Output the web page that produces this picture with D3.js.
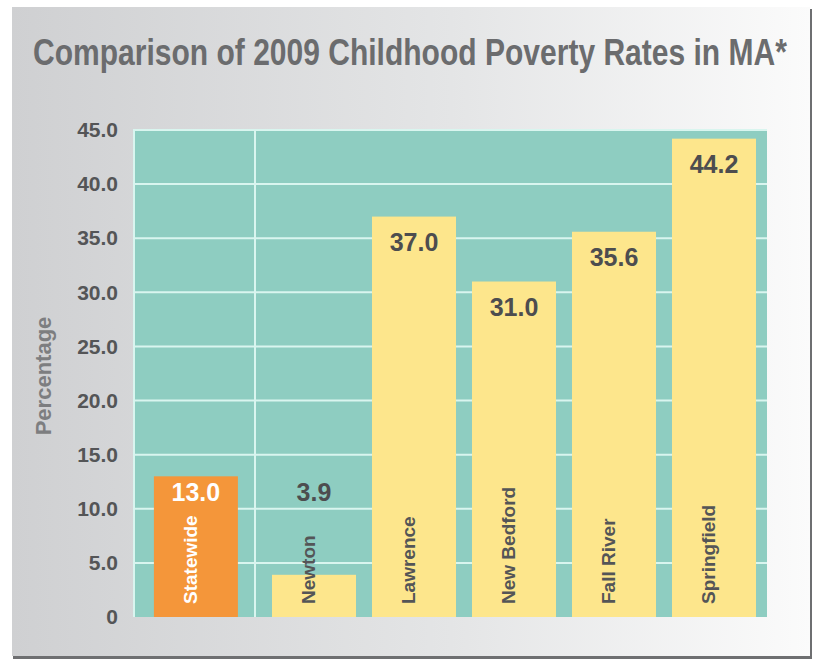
<!DOCTYPE html>
<html>
<head>
<meta charset="utf-8">
<script src="https://cdn.jsdelivr.net/npm/d3@7"></script>
<style>
  html, body { margin: 0; padding: 0; background: #fff; }
  text { font-family: "Liberation Sans", Arial, sans-serif; }
</style>
</head>
<body>
<div id="viz"></div>
<script>
const categories = ["Statewide", "Newton", "Lawrence", "New Bedford", "Fall River", "Springfield"]
const values = [13.0, 3.9, 37.0, 31.0, 35.6, 44.2]
const tickValues = [0, 5, 10, 15, 20, 25, 30, 35, 40, 45]
const tickLabels = ["0", "5.0", "10.0", "15.0", "20.0", "25.0", "30.0", "35.0", "40.0", "45.0"]

const width = 817, height = 659

const colors = {
    plot: "#8ecdc1",
    grid: "#d9f5ef",
    bar: "#fde68c",
    statewide: "#f4963a",
    title: "#6b6c6e",
    tick: "#545557",
    value: "#4d4d4f",
    axisTitle: "#7d7e80"
}

const plot = { left: 133, right: 767, top: 130, bottom: 617, split: 255 }

const svg = d3.select("#viz").append("svg")
    .attr("width", width)
    .attr("height", height)

const defs = svg.append("defs")
const grad = defs.append("linearGradient").attr("id", "bg").attr("x1", "0%").attr("x2", "100%")
grad.append("stop").attr("offset", "0%").attr("stop-color", "#cfd0d2")
grad.append("stop").attr("offset", "55%").attr("stop-color", "#e4e5e6")
grad.append("stop").attr("offset", "100%").attr("stop-color", "#fbfbfb")

// panel with shadow on right and bottom
svg.append("rect").attr("x", 13).attr("y", 9).attr("width", 799).attr("height", 650).attr("fill", "#6e6f71")
svg.append("rect").attr("x", 12).attr("y", 7).attr("width", 798).attr("height", 649).attr("fill", "url(#bg)")

// title is a condensed face in the original, so squeeze it horizontally
const title = svg.append("text")
    .style("font-size", "37px").style("font-weight", "bold")
    .attr("fill", colors.title)
    .text("Comparison of 2009 Childhood Poverty Rates in MA*")
const titleLen = title.node().getComputedTextLength()
title.attr("transform", `translate(33,65) scale(${754 / titleLen},1)`)

const y = d3.scaleLinear().domain([0, 45]).range([plot.bottom, plot.top])

// Statewide sits in its own column, the cities share one band scale
const xState = d3.scaleBand().domain(categories.slice(0, 1))
    .range([plot.left, plot.split]).paddingInner(0.16).paddingOuter(0.19).align(0.55)
const xCity = d3.scaleBand().domain(categories.slice(1))
    .range([264, 764]).paddingInner(0.16).paddingOuter(0.08)
const xPos = c => c === categories[0] ? xState(c) : xCity(c)
const bw = xCity.bandwidth()

svg.append("rect")
    .attr("x", plot.left).attr("y", plot.top)
    .attr("width", plot.right - plot.left).attr("height", plot.bottom - plot.top)
    .attr("fill", colors.plot)

// gridlines
svg.append("g")
    .selectAll("line")
    .data(tickValues.filter(d => d > 0))
    .join("line")
    .attr("x1", plot.left).attr("x2", plot.right)
    .attr("y1", d => y(d)).attr("y2", d => y(d))
    .attr("stroke", colors.grid).attr("stroke-width", 2)

svg.append("line")
    .attr("x1", plot.left + 1).attr("x2", plot.left + 1)
    .attr("y1", plot.top).attr("y2", plot.bottom)
    .attr("stroke", colors.grid).attr("stroke-width", 2)
svg.append("line")
    .attr("x1", plot.split).attr("x2", plot.split)
    .attr("y1", plot.top).attr("y2", plot.bottom)
    .attr("stroke", colors.grid).attr("stroke-width", 2)

// y axis labels
const yAxis = d3.axisLeft(y).tickValues(tickValues)
    .tickFormat((d, i) => tickLabels[i]).tickSize(0).tickPadding(15)
const yg = svg.append("g").attr("transform", `translate(${plot.left},0)`).call(yAxis)
yg.select(".domain").remove()
yg.selectAll("text")
    .attr("fill", colors.tick)
    .style("font-size", "21px").style("font-weight", "bold")
    .style("font-family", "'Liberation Sans', Arial, sans-serif")

svg.append("text")
    .attr("transform", `translate(51,376) rotate(-90)`)
    .attr("text-anchor", "middle")
    .style("font-size", "22px").style("font-weight", "bold")
    .attr("fill", colors.axisTitle)
    .text("Percentage")

const data = categories.map((c, i) => ({ name: c, value: values[i] }))

svg.append("g").selectAll("rect")
    .data(data)
    .join("rect")
    .attr("x", d => xPos(d.name))
    .attr("y", d => y(d.value))
    .attr("width", bw)
    .attr("height", d => y(0) - y(d.value))
    .attr("fill", (d, i) => i === 0 ? colors.statewide : colors.bar)

// value labels; Newton's sits level with the Statewide one
const labelY = (d, i) => (i === 0 || d.value < values[0]) ? y(values[0]) + 25 : y(d.value) + 34
svg.append("g").selectAll("text")
    .data(data)
    .join("text")
    .attr("x", d => xPos(d.name) + bw / 2)
    .attr("y", labelY)
    .attr("text-anchor", "middle")
    .style("font-size", "25px").style("font-weight", "bold")
    .attr("fill", (d, i) => i === 0 ? "#ffffff" : colors.value)
    .text(d => d3.format(".1f")(d.value))

// category labels, rotated inside the bars
svg.append("g").selectAll("text")
    .data(data)
    .join("text")
    .attr("transform", d => `translate(${xPos(d.name) + bw / 2 + 1},${plot.bottom - 13}) rotate(-90)`)
    .style("font-size", "19px").style("font-weight", "bold")
    .attr("fill", (d, i) => i === 0 ? "#ffffff" : colors.tick)
    .text(d => d.name)
</script>
</body>
</html>
